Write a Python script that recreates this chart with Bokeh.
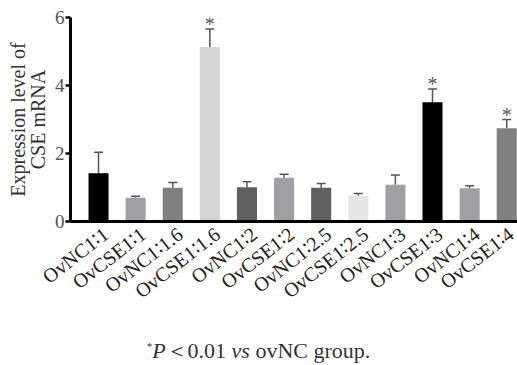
from bokeh.plotting import figure
from bokeh.layouts import column
from bokeh.models import Range1d, FixedTicker, Whisker, ColumnDataSource, TeeHead, Div
from bokeh.core.properties import value
from bokeh.embed import file_html
from bokeh.resources import INLINE

categories = ["OvNC1∶1", "OvCSE1∶1", "OvNC1∶1.6", "OvCSE1∶1.6", "OvNC1∶2", "OvCSE1∶2",
              "OvNC1∶2.5", "OvCSE1∶2.5", "OvNC1∶3", "OvCSE1∶3", "OvNC1∶4", "OvCSE1∶4"]
means = [1.42, 0.70, 0.99, 5.13, 1.01, 1.29, 0.99, 0.76, 1.08, 3.51, 0.98, 2.74]
upper = [2.04, 0.74, 1.15, 5.66, 1.17, 1.39, 1.12, 0.82, 1.37, 3.90, 1.05, 3.00]
significant = [False, False, False, True, False, False, False, False, False, True, False, True]
colors = ["#000000", "#a0a0a4", "#808080", "#d4d4d4", "#606060", "#a0a0a4",
          "#606060", "#e6e6e6", "#a0a0a4", "#000000", "#a0a0a4", "#808080"]
y_ticks = [0, 2, 4, 6]

FONT = "Liberation Serif"
W, H1, H2 = 517, 335, 30
FL, FR, FT, FB = 70, 517, 17, 221
x0, x1 = -0.755, 11.29
y0, y1 = 0, 6
LABEL_SHIFT = 0.2

xs = list(range(len(categories)))
src = ColumnDataSource(dict(x=xs, top=means, upper=upper, color=colors))

p = figure(width=W, height=H1, output_backend="svg", toolbar_location=None,
           x_range=Range1d(x0, x1), y_range=Range1d(y0, y1),
           min_border_left=FL, min_border_right=W - FR, min_border_top=FT,
           min_border_bottom=H1 - FB)
p.outline_line_color = None
p.xgrid.visible = False
p.ygrid.visible = False

p.vbar(x="x", top="top", bottom=0, width=0.54, fill_color="color", line_color=None, source=src)
w = Whisker(base="x", lower="top", upper="upper", source=src, line_color="#555555", line_width=1.5,
            upper_head=TeeHead(size=9, line_color="#555555", line_width=1.5), lower_head=None)
p.add_layout(w)

sx = [x for x, s in zip(xs, significant) if s]
sy = [u for u, s in zip(upper, significant) if s]
p.text(x=sx, y=sy, text=["*"] * len(sx), text_font=value(FONT), text_font_size="20px",
       text_color="#555555", text_align="center", text_baseline="alphabetic", y_offset=-5)

# axes
p.yaxis.ticker = FixedTicker(ticks=y_ticks)
p.yaxis.axis_line_width = 3
p.yaxis.axis_line_color = "black"
p.yaxis.major_tick_line_width = 2.5
p.yaxis.major_tick_out = 5
p.yaxis.major_tick_in = 0
p.yaxis.minor_tick_line_color = None
p.yaxis.major_label_text_font = FONT
p.yaxis.major_label_text_font_size = "19px"
p.yaxis.major_label_text_color = "#555555"
p.yaxis.major_label_standoff = 1
p.yaxis.axis_label = "Expression level of\nCSE mRNA"
p.yaxis.axis_label_text_font = FONT
p.yaxis.axis_label_text_font_style = "normal"
p.yaxis.axis_label_text_font_size = "20px"
p.yaxis.axis_label_text_line_height = 0.9
p.yaxis.axis_label_text_color = "#333333"
p.yaxis.axis_label_standoff = 3

label_ticks = [x + LABEL_SHIFT for x in xs]
p.xaxis.ticker = FixedTicker(ticks=label_ticks)
p.xaxis.major_label_overrides = {t: c for t, c in zip(label_ticks, categories)}
p.xaxis.axis_line_width = 3
p.xaxis.axis_line_color = "black"
p.xaxis.major_tick_line_color = None
p.xaxis.minor_tick_line_color = None
p.xaxis.major_label_orientation = 0.66
p.xaxis.major_label_text_font = FONT
p.xaxis.major_label_text_font_size = "20px"
p.xaxis.major_label_text_color = "#222222"
p.xaxis.major_label_standoff = 4

note = Div(text="<sup style='font-size:11px'>*</sup><i>P</i>＜0.01 <i>vs</i> ovNC group.",
           width=W, height=H2, margin=0,
           styles={"font-family": FONT, "font-size": "22px", "color": "#333333",
                   "text-align": "center", "line-height": "22px", "padding-top": "0px",
                   "width": f"{W}px"})

layout = column(p, note, spacing=0)
open("out.html", "w").write(file_html(layout, INLINE))
